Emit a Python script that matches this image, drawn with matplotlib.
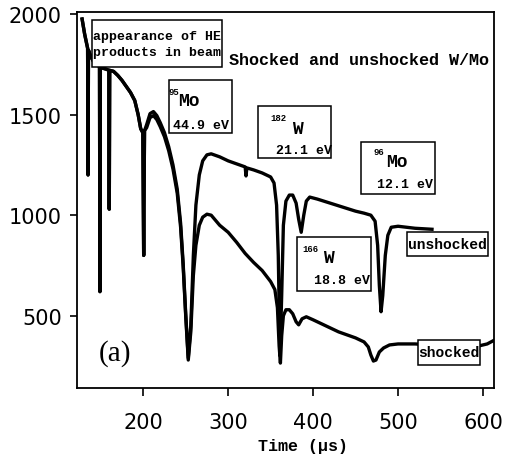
import matplotlib
matplotlib.use('Agg')
import matplotlib.pyplot as plt
from matplotlib.patches import Rectangle

# trace values (time in us, counts)
t_unshocked = [128, 131, 133, 134.5, 135, 135.5, 138, 142, 146, 148.5, 149, 149.5,
               153, 157, 159.5, 160, 160.5, 165, 170, 175, 180, 185, 190, 194, 197,
               199.5, 200.5, 201.5, 204, 208, 212, 216, 220, 225, 230, 235, 240, 244,
               247, 250, 253, 256, 259, 262, 266, 270, 275, 280, 290, 300, 310, 320,
               321, 322, 330, 340, 350, 354, 357, 359, 361, 363, 365, 368, 372, 376,
               380, 383, 386, 389, 392, 396, 405, 420, 435, 450, 460, 468, 473, 476,
               478, 480, 482, 485, 488, 492, 500, 520, 540]
v_unshocked = [1975, 1900, 1860, 1830, 1200, 1820, 1790, 1760, 1745, 1740, 620, 1735,
               1730, 1725, 1720, 1030, 1720, 1715, 1695, 1670, 1640, 1610, 1570, 1500, 1430,
               1410, 800, 1420, 1450, 1505, 1515, 1495, 1460, 1410, 1340, 1250, 1130, 960,
               760, 510, 290, 450, 800, 1050, 1200, 1270, 1300, 1305, 1290, 1270, 1255, 1240,
               1195, 1235, 1225, 1210, 1190, 1160, 1050, 800, 300, 600, 950, 1070, 1100, 1100,
               1060, 980, 915, 1000, 1070, 1090, 1080, 1060, 1040, 1020, 1010, 1000, 970, 850,
               650, 520, 600, 800, 900, 940, 945, 935, 930]

t_shocked = [128, 131, 133, 134.5, 135, 135.5, 138, 142, 146, 148.5, 149, 149.5,
             153, 157, 159.5, 160, 160.5, 165, 170, 175, 180, 185, 190, 194, 197,
             199.5, 200.5, 201.5, 204, 208, 212, 216, 220, 225, 230, 235, 240, 244,
             247, 250, 253, 256, 259, 262, 266, 270, 275, 280, 285, 290, 300, 310,
             320, 330, 340, 350, 355, 358, 360, 361.5, 363, 365, 368, 372, 376, 380,
             383, 387, 392, 400, 410, 420, 430, 440, 450, 460, 465, 468, 471, 474,
             478, 483, 490, 500, 520, 540, 560, 580, 595, 605, 613]
v_shocked = [1975, 1900, 1860, 1830, 1200, 1820, 1790, 1760, 1745, 1740, 620, 1735,
             1730, 1725, 1720, 1030, 1720, 1715, 1695, 1670, 1640, 1610, 1570, 1500, 1430,
             1410, 800, 1420, 1435, 1485, 1495, 1475, 1440, 1390, 1320, 1230, 1110, 940,
             745, 500, 280, 420, 700, 850, 950, 990, 1005, 1000, 975, 950, 915, 865,
             810, 765, 725, 670, 630, 540, 350, 265, 400, 500, 530, 530, 510, 470,
             455, 485, 495, 480, 460, 440, 420, 405, 390, 370, 345, 305, 275, 280,
             320, 340, 355, 360, 360, 355, 350, 345, 350, 360, 378]

x_ticks = [200, 300, 400, 500, 600]
y_ticks = [500, 1000, 1500, 2000]

# isotope boxes: superscript, symbol, energy text
iso_mass = ['95', '182', '96', '166']
iso_symbol = ['Mo', 'W', 'Mo', 'W']
iso_energy = ['44.9 eV', '21.1 eV', '12.1 eV', '18.8 eV']
iso_boxes = [(230.6, 304.7, 1409, 1672), (335.3, 421.2, 1285, 1543),
             (456.5, 543.5, 1106, 1364), (381.2, 468.2, 624, 892)]
iso_mass_xy = [(235.9, 1617), (358.8, 1488), (477.6, 1315), (396.5, 833)]
iso_sym_xy = [(254.1, 1568), (381.8, 1429), (498.8, 1265), (418.2, 788)]
iso_en_xy = [(268.2, 1449), (388.8, 1324), (508.2, 1156), (433.5, 679)]

mono = 'Liberation Mono'

fig = plt.figure(figsize=(5.06, 4.60), dpi=100)
ax = fig.add_axes([77 / 506, 71 / 460, 417 / 506, 376 / 460])

ax.plot(t_unshocked, v_unshocked, color='black', lw=2.4, zorder=2)
ax.plot(t_shocked, v_shocked, color='black', lw=2.4, zorder=2)

ax.set_xlim(122, 613)
ax.set_ylim(141, 2010)
ax.set_xticks(x_ticks)
ax.set_yticks(y_ticks)
ax.tick_params(axis='x', direction='out', length=6, width=1.2, pad=11, labelsize=15)
ax.tick_params(axis='y', direction='out', length=5, width=1.2, pad=6, labelsize=15)
for s in ax.spines.values():
    s.set_linewidth(1.3)

ax.set_xlabel('Time (µs)', family=mono, fontsize=12, fontweight='bold')
ax.xaxis.set_label_coords(0.542, -0.134)

def box(x0, x1, y0, y1):
    ax.add_patch(Rectangle((x0, y0), x1 - x0, y1 - y0, fc='white', ec='black',
                           lw=1.1, zorder=3, clip_on=False))

# annotation boxes
box(140.0, 292.9, 1737, 1970)
ax.text(216.5, 1850, 'appearance of HE\nproducts in beam', family=mono, fontsize=9.5,
        fontweight='bold', ha='center', va='center', linespacing=1.4, zorder=4)

for i in range(len(iso_mass)):
    box(*iso_boxes[i])
    ax.text(*iso_mass_xy[i], iso_mass[i], family=mono, fontsize=6.5, fontweight='bold',
            ha='center', va='center', zorder=4)
    ax.text(*iso_sym_xy[i], iso_symbol[i], family=mono, fontsize=13, fontweight='bold',
            ha='center', va='center', zorder=4)
    ax.text(*iso_en_xy[i], iso_energy[i], family=mono, fontsize=9.5, fontweight='bold',
            ha='center', va='center', zorder=4)

box(510.6, 605.9, 798, 917)
ax.text(558.2, 857, 'unshocked', family=mono, fontsize=10.5, fontweight='bold',
        ha='center', va='center', zorder=4)
box(523.5, 596.5, 257, 381)
ax.text(560, 318, 'shocked', family=mono, fontsize=10.5, fontweight='bold',
        ha='center', va='center', zorder=4)

ax.text(301, 1776, 'Shocked and unshocked W/Mo', family=mono, fontsize=12.1,
        fontweight='bold', ha='left', va='center', zorder=4, clip_on=False)
ax.text(166.5, 318, '(a)', family='Liberation Serif', fontsize=21,
        ha='center', va='center', zorder=4)

fig.savefig('out.png', dpi=100)
